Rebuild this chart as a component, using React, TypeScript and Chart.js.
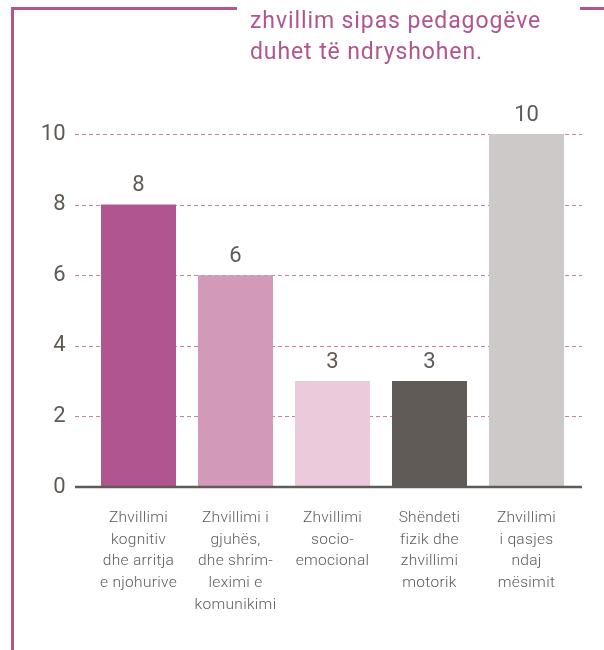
import React, { useEffect, useRef } from "react";
import { Chart, registerables } from "chart.js";

Chart.register(...registerables);

const categories: string[][] = [
  ["Zhvillimi", "kognitiv", "dhe arritja", "e njohurive"],
  ["Zhvillimi i", "gjuhës,", "dhe shrim-", "leximi e", "komunikimi"],
  ["Zhvillimi", "socio-", "emocional"],
  ["Shëndeti", "fizik dhe", "zhvillimi", "motorik"],
  ["Zhvillimi", "i qasjes", "ndaj", "mësimit"],
];
const values: number[] = [8, 6, 3, 3, 10];
const barColors: string[] = ["#b0558e", "#d399b9", "#ebcbdb", "#605b57", "#cdc9c8"];
const gridValues: number[] = [2, 4, 6, 8, 10];
const titleLines: string[] = ["zhvillim sipas pedagogëve", "duhet të ndryshohen."];

const MAGENTA = "#b0558e";
const GRID_COLOR = "#c77fab";
const TEXT_COLOR = "#5f5a56";
const AXIS_COLOR = "#605b57";
const FONT = "Roboto";

const customPlugin = {
  id: "customDecor",
  beforeDraw(chart: any) {
    (chart.ctx as any).letterSpacing = "0.3px";
  },
  beforeDatasetsDraw(chart: any) {
    const { ctx, scales, chartArea } = chart;
    (ctx as any).letterSpacing = "0px";
    const y = scales.y;
    ctx.save();
    ctx.strokeStyle = GRID_COLOR;
    ctx.lineWidth = 1;
    ctx.setLineDash([4, 3]);
    for (const v of gridValues) {
      const py = Math.round(y.getPixelForValue(v)) + 0.5;
      ctx.beginPath();
      ctx.moveTo(chartArea.left - 15, py);
      ctx.lineTo(chartArea.right + 7, py);
      ctx.stroke();
    }
    ctx.restore();
  },
  afterDatasetsDraw(chart: any) {
    const { ctx, scales, chartArea } = chart;
    const y = scales.y;
    ctx.save();
    const y0 = y.getPixelForValue(0);
    ctx.strokeStyle = AXIS_COLOR;
    ctx.lineWidth = 2.5;
    ctx.beginPath();
    ctx.moveTo(chartArea.left - 15, y0);
    ctx.lineTo(chartArea.right + 7, y0);
    ctx.stroke();

    const meta = chart.getDatasetMeta(0);
    ctx.fillStyle = TEXT_COLOR;
    ctx.font = `400 22px ${FONT}`;
    ctx.textAlign = "center";
    ctx.textBaseline = "middle";
    meta.data.forEach((bar: any, i: number) => {
      ctx.fillText(String(values[i]), bar.x, bar.y - 19);
    });
    ctx.restore();
  },
};

export default function App() {
  const ref = useRef<HTMLCanvasElement | null>(null);
  useEffect(() => {
    if (!ref.current) return;
    const chart = new Chart(ref.current, {
      type: "bar",
      data: {
        labels: categories,
        datasets: [
          {
            data: values,
            backgroundColor: barColors,
            borderWidth: 0,
            categoryPercentage: 1,
            barPercentage: 0.773,
          },
        ],
      },
      options: {
        responsive: false,
        animation: false,
        devicePixelRatio: 1,
        layout: { padding: { top: 134, right: 29, bottom: 0, left: 0 } },
        plugins: {
          legend: { display: false },
          tooltip: { enabled: false },
          title: { display: false },
        },
        scales: {
          x: {
            grid: { display: false, drawTicks: false },
            border: { display: false },
            ticks: {
              autoSkip: false,
              maxRotation: 0,
              minRotation: 0,
              padding: 20,
              color: TEXT_COLOR,
              font: { family: FONT, size: 15.5, weight: "300", lineHeight: "21.8px" },
            },
            afterFit: (scale: any) => {
              scale.height = 163;
            },
          },
          y: {
            min: 0,
            max: 10,
            grid: { display: false, drawTicks: false },
            border: { display: false },
            ticks: {
              stepSize: 2,
              padding: 24,
              color: TEXT_COLOR,
              font: { family: FONT, size: 22, weight: "400" },
            },
            afterFit: (scale: any) => {
              scale.width = 90;
            },
          },
        },
      },
      plugins: [customPlugin],
    });
    return () => chart.destroy();
  }, []);

  return (
    <div style={{ position: "absolute", left: 0, top: 0, width: 604, height: 650, background: "#fff", overflow: "hidden" }}>
      <canvas ref={ref} width={604} height={650} style={{ position: "absolute", left: 0, top: 0, width: 604, height: 650 }} />
      <div style={{ position: "absolute", left: 11, top: 7, width: 3, height: 643, background: MAGENTA }} />
      <div style={{ position: "absolute", left: 11, top: 7, width: 226, height: 3, background: MAGENTA }} />
      <div style={{ position: "absolute", left: 580, top: 7, width: 24, height: 3, background: MAGENTA }} />
      <div
        style={{
          position: "absolute",
          left: 250,
          top: 5,
          fontFamily: FONT,
          fontWeight: 400,
          fontSize: 23,
          letterSpacing: "0.9px",
          lineHeight: "31px",
          color: MAGENTA,
          whiteSpace: "nowrap",
        }}
      >
        {titleLines.map((l, i) => (
          <div key={i}>{l}</div>
        ))}
      </div>
    </div>
  );
}
